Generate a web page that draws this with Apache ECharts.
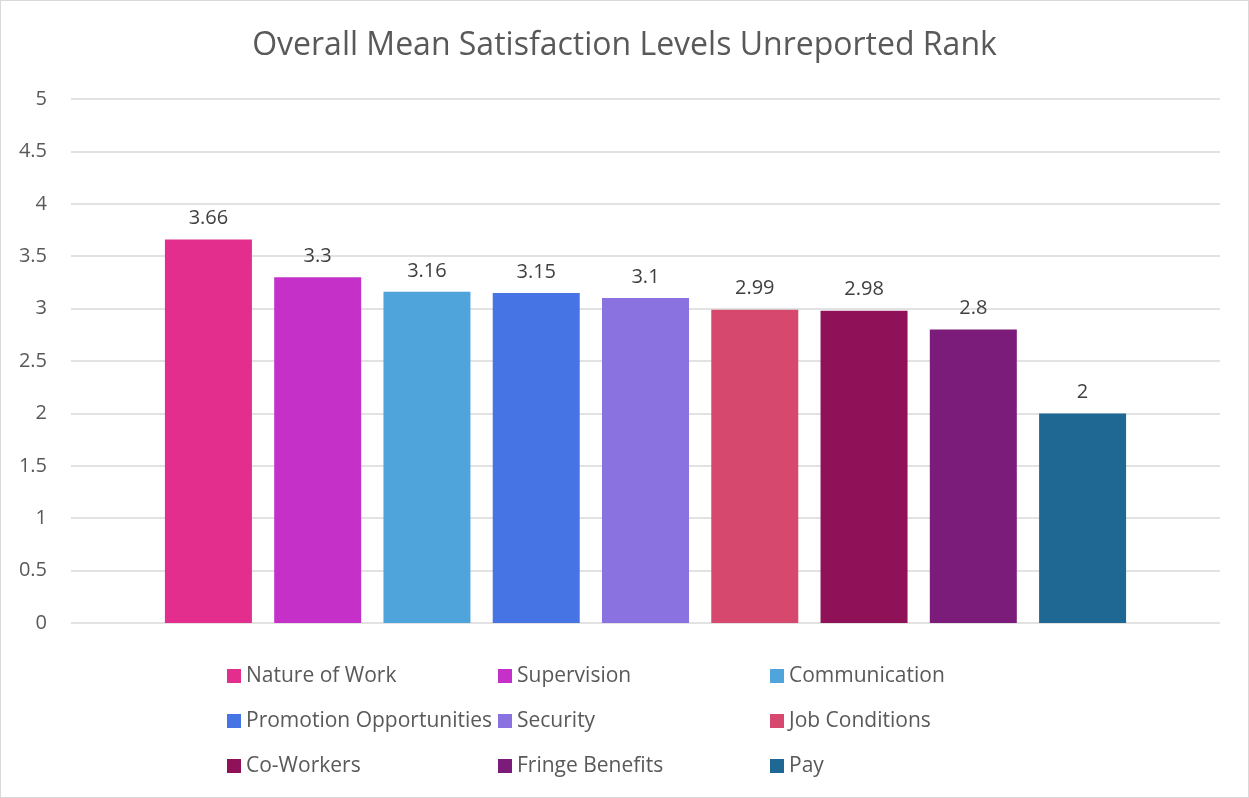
<!DOCTYPE html>
<html>
<head>
<meta charset="utf-8">
<script src="https://cdn.jsdelivr.net/npm/echarts@6/dist/echarts.min.js"></script>
<style>
  html, body { margin: 0; padding: 0; background: #fff; }
  #chart { width: 1247px; height: 796px; border: 1px solid #d9d9d9; }
</style>
</head>
<body>
<div id="chart"></div>
<script>
// Data
var titleText = 'Overall Mean Satisfaction Levels Unreported Rank';
var factors = ['Nature of Work', 'Supervision', 'Communication', 'Promotion Opportunities',
  'Security', 'Job Conditions', 'Co-Workers', 'Fringe Benefits', 'Pay'];
var means = [3.66, 3.3, 3.16, 3.15, 3.1, 2.99, 2.98, 2.8, 2];
var colors = ['#e32e8d', '#c531c8', '#4fa5db', '#4774e4', '#8b72e1', '#d6486e', '#8f1157', '#7b1c7b', '#1f6894'];
var yTicks = { min: 0, max: 5, interval: 0.5 };

var fontFamily = '"Open Sans", sans-serif';

var series = factors.map(function (name, i) {
  return {
    name: name,
    type: 'bar',
    data: [means[i]],
    barWidth: 87,
    barGap: '25.6%',
    itemStyle: { color: colors[i] },
    label: {
      show: true,
      position: 'top',
      distance: 11,
      color: '#404040',
      fontSize: 20,
      fontFamily: fontFamily
    }
  };
});

// legend laid out in three columns, like the original
function legendColumn(names, left) {
  return {
    orient: 'vertical',
    left: left,
    top: 664,
    padding: 0,
    data: names,
    icon: 'rect',
    itemWidth: 14,
    itemHeight: 14,
    itemGap: 23,
    textStyle: { color: '#595959', fontSize: 21, fontFamily: fontFamily, lineHeight: 22 }
  };
}

var chart = echarts.init(document.getElementById('chart'));
chart.setOption({
  animation: false,
  title: {
    text: titleText,
    left: 'center',
    top: 24,
    textStyle: { color: '#595959', fontSize: 32, fontWeight: 'normal', fontFamily: fontFamily }
  },
  legend: [
    legendColumn([factors[0], factors[3], factors[6]], 226),
    legendColumn([factors[1], factors[4], factors[7]], 497),
    legendColumn([factors[2], factors[5], factors[8]], 769)
  ],
  grid: { left: 70, right: 28, top: 98, bottom: 174 },
  xAxis: {
    type: 'category',
    data: [''],
    axisLine: { show: false },
    axisTick: { show: false },
    axisLabel: { show: false }
  },
  yAxis: {
    type: 'value',
    min: yTicks.min,
    max: yTicks.max,
    interval: yTicks.interval,
    axisLabel: { color: '#595959', fontSize: 20, fontFamily: fontFamily, margin: 24 },
    splitLine: { lineStyle: { color: '#d9d9d9', width: 1.5 } }
  },
  series: series
});
</script>
</body>
</html>
